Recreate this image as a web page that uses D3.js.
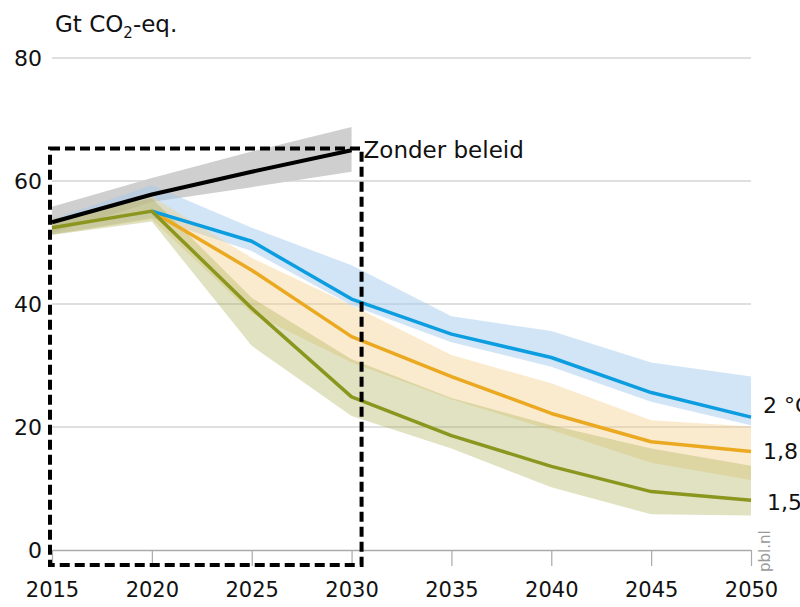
<!DOCTYPE html>
<html><head><meta charset="utf-8">
<script src="https://cdn.jsdelivr.net/npm/d3@7"></script>
<style>
html,body{margin:0;padding:0;background:#fff;}
svg text{font-family:"DejaVu Sans","Open Sans",sans-serif;}
</style>
</head><body>
<svg id="chart" width="800" height="607"></svg>
<script>
// ---- data ----
const years = [2015, 2020, 2025, 2030, 2035, 2040, 2045, 2050];
const yTicks = [0, 20, 40, 60, 80];
const xTicks = [2015, 2020, 2025, 2030, 2035, 2040, 2045, 2050];

const noPolicyYears = [2015, 2020, 2025, 2030];
const noPolicy      = [53.3, 57.8, 61.5, 65.0];
const noPolicyLow   = [51.5, 56.6, 59.0, 61.5];
const noPolicyHigh  = [55.8, 60.5, 64.8, 68.8];

const c20      = [null, 55.1, 50.2, 40.8, 35.1, 31.3, 25.6, 21.6];
const c20Low   = [51.3, 54.0, 48.6, 39.8, 33.8, 29.8, 24.1, 20.3];
const c20High  = [53.8, 59.3, 52.4, 46.3, 38.0, 35.6, 30.5, 28.2];

const c18      = [null, 55.1, 45.5, 34.7, 28.2, 22.2, 17.6, 16.0];
const c18Low   = [51.3, 53.8, 38.5, 30.5, 24.5, 19.5, 14.2, 11.4];
const c18High  = [53.8, 57.5, 47.5, 39.8, 31.7, 27.1, 21.1, 20.1];

const c15      = [52.4, 55.1, 39.3, 24.9, 18.6, 13.6, 9.5, 8.1];
const c15Low   = [51.2, 53.4, 33.2, 21.8, 16.5, 10.2, 5.8, 5.6];
const c15High  = [53.8, 57.2, 41.0, 31.0, 24.7, 20.3, 16.5, 13.7];

const seriesLabels = ["2 °C", "1,8 °C", "1,5 °C"];
const labelPos = [23.6, 16.0, 7.8];
const noPolicyLabel = "Zonder beleid";
const unitLabel = ["Gt CO", "2", "-eq."];
const sourceLabel = "pbl.nl";

// ---- chart ----
const svg = d3.select("#chart");
const x = d3.scaleLinear().domain([2015, 2050]).range([52, 751]);
const y = d3.scaleLinear().domain([0, 80]).range([550, 58]);

// gridlines
svg.append("g").selectAll("line").data(yTicks.filter(d => d > 0)).join("line")
  .attr("x1", x(2015)).attr("x2", x(2050))
  .attr("y1", d => y(d)).attr("y2", d => y(d))
  .attr("stroke", "#d4d4d4").attr("stroke-width", 1.5);

// y labels
svg.append("g").selectAll("text").data(yTicks).join("text")
  .attr("x", x(2015) - 10).attr("y", d => y(d)).attr("dy", "0.36em")
  .attr("text-anchor", "end").attr("font-size", 22).attr("fill", "#111")
  .text(d => d);

// unit label
const ut = svg.append("text").attr("x", 55).attr("y", 32).attr("font-size", 23).attr("fill", "#111");
ut.append("tspan").text(unitLabel[0]);
ut.append("tspan").attr("font-size", 15).attr("dy", 6).text(unitLabel[1]);
ut.append("tspan").attr("dy", -6).text(unitLabel[2]);

// x axis
const xAxis = svg.append("g").attr("transform", `translate(0,${y(0)})`)
  .call(d3.axisBottom(x).tickValues(xTicks).tickFormat(d3.format("d"))
    .tickSize(16).tickSizeOuter(0).tickPadding(16));
xAxis.select(".domain").attr("stroke", "#aaa").attr("stroke-width", 1.5);
xAxis.selectAll(".tick line").attr("stroke", "#aaa").attr("stroke-width", 1.2);
xAxis.selectAll(".tick text").attr("font-size", 21).attr("fill", "#111")
  .attr("font-family", "'DejaVu Sans', sans-serif");

// band & line generators
function bandData(xs, lo, hi) { return xs.map((yr, i) => ({yr, lo: lo[i], hi: hi[i]})); }
const area = d3.area().x(d => x(d.yr)).y0(d => y(d.lo)).y1(d => y(d.hi));
const line = d3.line().defined(d => d.v != null).x(d => x(d.yr)).y(d => y(d.v));
function lineData(xs, vs) { return xs.map((yr, i) => ({yr, v: vs[i]})); }

// bands
svg.append("path").datum(bandData(noPolicyYears, noPolicyLow, noPolicyHigh))
  .attr("d", area).attr("fill", "#cfcfcf");
svg.append("path").datum(bandData(years, c20Low, c20High))
  .attr("d", area).attr("fill", "#a3ccf0").attr("fill-opacity", 0.5);
svg.append("path").datum(bandData(years, c18Low, c18High))
  .attr("d", area).attr("fill", "#f2cd85").attr("fill-opacity", 0.4);
svg.append("path").datum(bandData(years, c15Low, c15High))
  .attr("d", area).attr("fill", "#a5ab50").attr("fill-opacity", 0.35);

// lines
svg.append("path").datum(lineData(noPolicyYears, noPolicy)).attr("d", line)
  .attr("fill", "none").attr("stroke", "#000").attr("stroke-width", 4).attr("stroke-linejoin", "round");
svg.append("path").datum(lineData(years, c18)).attr("d", line)
  .attr("fill", "none").attr("stroke", "#eaa920").attr("stroke-width", 3.5).attr("stroke-linejoin", "round");
svg.append("path").datum(lineData(years, c20)).attr("d", line)
  .attr("fill", "none").attr("stroke", "#0c9de0").attr("stroke-width", 3.5).attr("stroke-linejoin", "round");
svg.append("path").datum(lineData(years, c15)).attr("d", line)
  .attr("fill", "none").attr("stroke", "#8a961e").attr("stroke-width", 3.5).attr("stroke-linejoin", "round");

// dashed box (2015-2030 period)
svg.append("rect")
  .attr("x", x(2015) - 2).attr("y", y(65.3))
  .attr("width", x(2030) - x(2015) + 12)
  .attr("height", y(0) + 15 - y(65.3))
  .attr("fill", "none").attr("stroke", "#000").attr("stroke-width", 4)
  .attr("stroke-dasharray", "10,5");

// no-policy label
svg.append("text").attr("x", x(2030) + 12).attr("y", y(65)).attr("dy", "0.35em")
  .attr("font-size", 23).attr("fill", "#111").text(noPolicyLabel);

// series labels
svg.append("g").selectAll("text").data(seriesLabels).join("text")
  .attr("x", (d, i) => i === 2 ? 767 : 763)
  .attr("y", (d, i) => y(labelPos[i]))
  .attr("dy", "0.35em").attr("font-size", 22).attr("fill", "#111")
  .text(d => d);

// source
svg.append("text").attr("transform", "translate(770,572) rotate(-90)")
  .attr("font-size", 15).attr("fill", "#9a9a9a").text(sourceLabel);
</script>
</body></html>
